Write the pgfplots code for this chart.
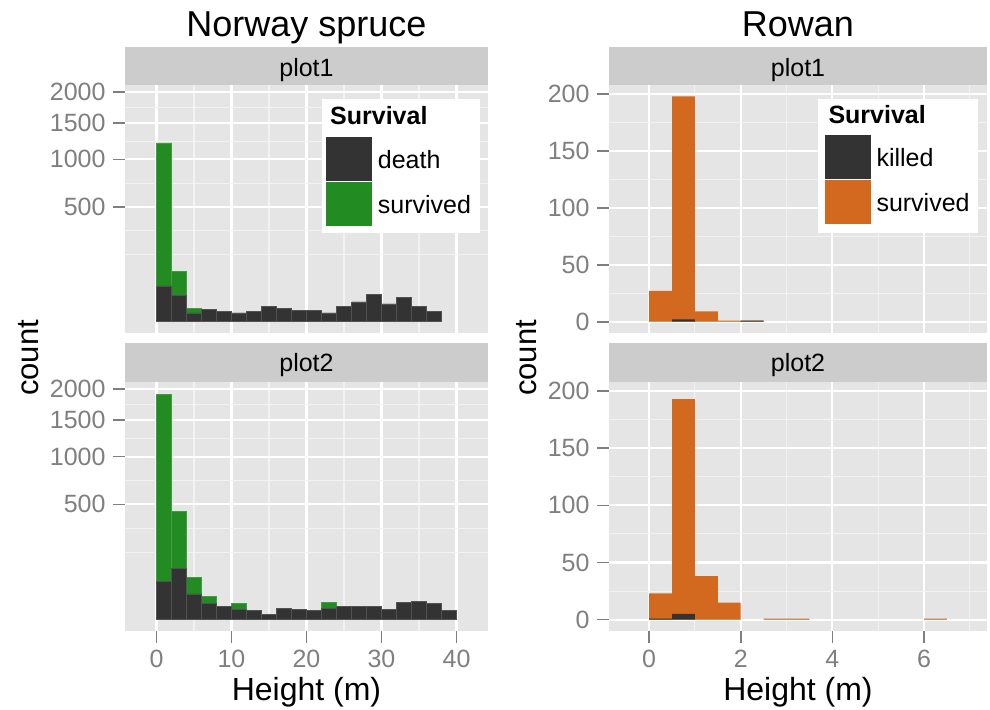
\documentclass[border=0pt]{standalone}
\usepackage{pgfplots}
\pgfplotsset{compat=1.18}
\usepackage{pgfplotstable}
\usepackage{fontspec}
\setmainfont{Liberation Sans}

\definecolor{panelbg}{HTML}{E5E5E5}
\definecolor{stripbg}{HTML}{CCCCCC}
\definecolor{minorgrid}{HTML}{F2F2F2}
\definecolor{dark}{HTML}{333333}
\definecolor{sgreen}{HTML}{228B22}
\definecolor{sorange}{HTML}{D2691E}
\definecolor{tickgray}{HTML}{7F7F7F}

% Norway spruce, plot1 (bin centres, width 2 m)
\pgfplotstableread{
x death survived
1 49 1163
3 27 69
5 3 4
7 6 0
9 4 0
11 3 0
13 4 0
15 9 0
17 7 0
19 5 0
21 5 0
23 3 0
25 9 0
27 15 0
29 29 0
31 12 0
33 22 0
35 9 0
37 4 0
}\spruceA
% Norway spruce, plot2
\pgfplotstableread{
x death survived
1 55 1859
3 98 344
5 25 43
7 10 11
9 7 0
11 4 6
13 3 0
15 1 0
17 5 0
19 4 0
21 3 0
23 5 6
25 7 0
27 7 0
29 7 0
31 4 0
33 11 0
35 13 0
37 10 0
39 3 0
}\spruceB
% Rowan, plot1 (bin centres, width 0.5 m)
\pgfplotstableread{
x death survived
0.25 0 27
0.75 2 196
1.25 0 9
1.75 0 1
2.25 1 0
}\rowanA
% Rowan, plot2
\pgfplotstableread{
x death survived
0.25 1 22
0.75 5 188
1.25 0 38
1.75 0 15
2.75 0 1
3.25 0 1
6.25 0 1
}\rowanB

\newcommand{\fs}[1]{\fontsize{#1}{#1}\selectfont}

\pgfplotsset{
  gg/.style={
    anchor=south west, scale only axis, clip=false,
    axis background/.style={fill=panelbg},
    axis line style={draw=none},
    tick pos=left, tick align=outside,
    major tick length=12pt, minor tick length=0pt,
    tick style={draw=tickgray, line width=1.6pt},
    grid=both,
    major grid style={white, line width=2.2pt},
    minor grid style={minorgrid, line width=1.1pt},
    ticklabel style={font=\fs{25}, text=tickgray},
    yticklabel style={xshift=-4pt},
    xticklabel style={yshift=-4pt},
    /pgf/number format/assume math mode=true,
    legend cell align=left,
    legend style={anchor=north west, draw=none, fill=none, inner sep=0pt,
      row sep=1.5pt, column sep=4pt, font=\fs{25}},
  },
  hbar/.style={ybar, bar width=#1, bar shift=0pt, forget plot},
  sq legend/.style={legend image code/.code={\fill[##1, draw=none] (0pt,-21pt) rectangle (46pt,23pt);}},
  spruce/.style={xmin=-4.2, xmax=44.2, ymin=-2.2, ymax=46.1,
    xtick={0,10,20,30,40}, minor xtick={5,15,25,35},
    ytick={22.3607,31.6228,38.7298,44.7214}, yticklabels={500,1000,1500,2000},
    minor ytick={13.10,17.73,26.99,35.18,41.73}},
  rowan/.style={xmin=-0.875, xmax=7.375, ymin=-9.9, ymax=207.9,
    xtick={0,2,4,6}, minor xtick={1,3,5,7},
    ytick={0,50,100,150,200}, minor ytick={25,75,125,175}},
}

\begin{document}
\begin{tikzpicture}
\path (0pt,0pt) rectangle (990pt,708pt);

% ---------------- Norway spruce, plot1
\begin{axis}[gg, spruce, at={(125pt,375pt)}, width=363pt, height=248pt,
  xticklabels={}, xtick style={draw=none},
  legend style={at={(axis description cs:0.5529,0.7915)}}]
\addplot[hbar=2, fill=sgreen, draw=sgreen!85!white, line width=0.5pt]
  table[x=x, y expr={sqrt(\thisrow{death}+\thisrow{survived})}] {\spruceA};
\addplot[hbar=2, fill=dark, draw=dark!85!white, line width=0.5pt]
  table[x=x, y expr={sqrt(\thisrow{death})}] {\spruceA};
\fill[stripbg] (rel axis cs:0,1) rectangle ([yshift=38pt]rel axis cs:1,1);
\node[anchor=base, font=\fs{25}] at ([yshift=8.5pt]rel axis cs:0.5,1) {plot1};
\node[anchor=base, font=\fs{36}] at ([yshift=48.3pt]rel axis cs:0.5,1) {Norway spruce};
\fill[white] (axis description cs:0.5419,0.402) rectangle (axis description cs:0.978,0.9423);
\node[anchor=base west, font=\bfseries\fs{25}] at (axis description cs:0.5556,0.8387) {Survival};
\addlegendimage{sq legend, fill=dark}
\addlegendentry{death}
\addlegendimage{sq legend, fill=sgreen}
\addlegendentry{survived}
\end{axis}

% ---------------- Norway spruce, plot2
\begin{axis}[gg, spruce, at={(125pt,77pt)}, width=363pt, height=249pt]
\addplot[hbar=2, fill=sgreen, draw=sgreen!85!white, line width=0.5pt]
  table[x=x, y expr={sqrt(\thisrow{death}+\thisrow{survived})}] {\spruceB};
\addplot[hbar=2, fill=dark, draw=dark!85!white, line width=0.5pt]
  table[x=x, y expr={sqrt(\thisrow{death})}] {\spruceB};
\fill[stripbg] (rel axis cs:0,1) rectangle ([yshift=39pt]rel axis cs:1,1);
\node[anchor=base, font=\fs{25}] at ([yshift=10pt]rel axis cs:0.5,1) {plot2};
\node[anchor=base, font=\fs{32}] at ([yshift=-69pt]rel axis cs:0.5,0) {Height (m)};
\end{axis}

% ---------------- Rowan, plot1
\begin{axis}[gg, rowan, at={(609pt,375pt)}, width=378pt, height=248pt,
  xticklabels={}, xtick style={draw=none},
  legend style={at={(axis description cs:0.5696,0.80)}}]
\addplot[hbar=0.5, fill=sorange, draw=none]
  table[x=x, y expr={\thisrow{death}+\thisrow{survived}}] {\rowanA};
\addplot[hbar=0.5, fill=dark, draw=none]
  table[x=x, y=death] {\rowanA};
\fill[stripbg] (rel axis cs:0,1) rectangle ([yshift=38pt]rel axis cs:1,1);
\node[anchor=base, font=\fs{25}] at ([yshift=8.5pt]rel axis cs:0.5,1) {plot1};
\node[anchor=base, font=\fs{36}] at ([yshift=48.3pt]rel axis cs:0.5,1) {Rowan};
\fill[white] (axis description cs:0.5537,0.4044) rectangle (axis description cs:0.9754,0.9423);
\node[anchor=base west, font=\bfseries\fs{25}] at (axis description cs:0.5714,0.8456) {Survival};
\addlegendimage{sq legend, fill=dark}
\addlegendentry{killed}
\addlegendimage{sq legend, fill=sorange}
\addlegendentry{survived}
\end{axis}

% ---------------- Rowan, plot2
\begin{axis}[gg, rowan, at={(609pt,77pt)}, width=378pt, height=249pt]
\addplot[hbar=0.5, fill=sorange, draw=none]
  table[x=x, y expr={\thisrow{death}+\thisrow{survived}}] {\rowanB};
\addplot[hbar=0.5, fill=dark, draw=none]
  table[x=x, y=death] {\rowanB};
\fill[stripbg] (rel axis cs:0,1) rectangle ([yshift=39pt]rel axis cs:1,1);
\node[anchor=base, font=\fs{25}] at ([yshift=10pt]rel axis cs:0.5,1) {plot2};
\node[anchor=base, font=\fs{32}] at ([yshift=-69pt]rel axis cs:0.5,0) {Height (m)};
\end{axis}

% y axis titles
\node[rotate=90, anchor=base, font=\fs{31}] at (38.3pt,350pt) {count};
\node[rotate=90, anchor=base, font=\fs{31}] at (536.7pt,350pt) {count};
\end{tikzpicture}
\end{document}
